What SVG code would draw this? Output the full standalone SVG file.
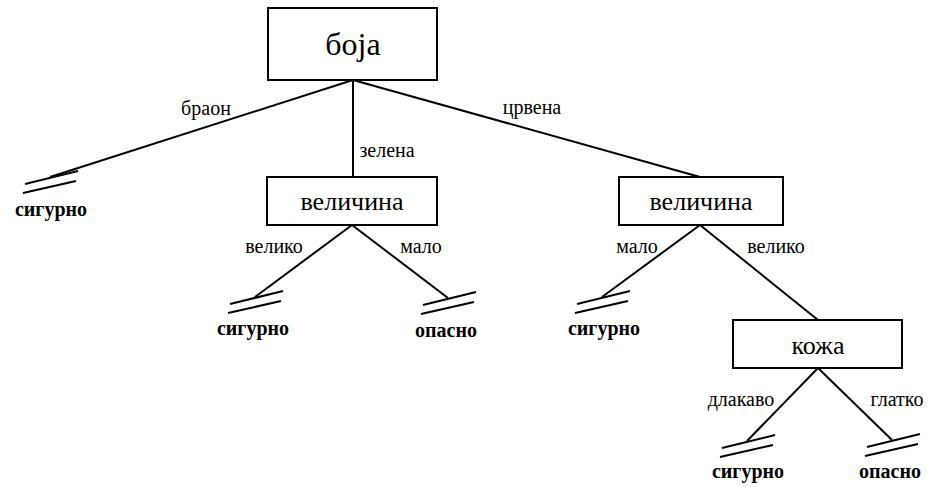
<svg xmlns="http://www.w3.org/2000/svg" width="929" height="487" viewBox="0 0 929 487">
  <style>
    .box { fill: #ffffff; stroke: #000000; stroke-width: 2; }
    .edge { stroke: #000000; stroke-width: 2; fill: none; }
    .term line { stroke: #000000; stroke-width: 2; }
    text { font-family: "Liberation Serif", "Times New Roman", serif; fill: #000000; text-anchor: middle; }
    .lbl { font-size: 20px; }
    .node-text { font-size: 26px; }
    .root-text { font-size: 32px; }
    .leaf { font-size: 20px; font-weight: bold; }
  </style>
  <defs>
    <g id="term" class="term">
      <line x1="-25" y1="7" x2="28" y2="-6"/>
      <line x1="-27" y1="16" x2="26" y2="4"/>
    </g>
  </defs>
  <rect width="929" height="487" fill="#ffffff"/>

  <g id="connectors">
    <line class="edge" x1="353" y1="80" x2="50" y2="177"/>
    <line class="edge" x1="353" y1="80" x2="353" y2="177"/>
    <line class="edge" x1="353" y1="80" x2="700" y2="177"/>
    <line class="edge" x1="352" y1="225" x2="255" y2="297"/>
    <line class="edge" x1="352" y1="225" x2="448" y2="298"/>
    <line class="edge" x1="700" y1="225" x2="602" y2="297"/>
    <line class="edge" x1="700" y1="225" x2="818" y2="320"/>
    <line class="edge" x1="818" y1="368" x2="747" y2="441"/>
    <line class="edge" x1="818" y1="368" x2="892" y2="440"/>
    <text class="lbl" x="206" y="115">браон</text>
    <text class="lbl" x="387" y="157">зелена</text>
    <text class="lbl" x="532" y="114">црвена</text>
    <text class="lbl" x="274" y="253">велико</text>
    <text class="lbl" x="421" y="253">мало</text>
    <text class="lbl" x="637" y="253">мало</text>
    <text class="lbl" x="776" y="253">велико</text>
    <text class="lbl" x="741" y="406">длакаво</text>
    <text class="lbl" x="897" y="406">глатко</text>
  </g>

  <g id="node-boja">
    <rect class="box" x="268" y="8" width="169" height="72"/>
    <text class="root-text" x="353" y="55">боја</text>
  </g>
  <g id="node-velicina-1">
    <rect class="box" x="267" y="177" width="170" height="48"/>
    <text class="node-text" x="352" y="210">величина</text>
  </g>
  <g id="node-velicina-2">
    <rect class="box" x="619" y="177" width="164" height="48"/>
    <text class="node-text" x="701" y="210">величина</text>
  </g>
  <g id="node-koza">
    <rect class="box" x="733" y="320" width="169" height="48"/>
    <text class="node-text" x="818" y="354">кожа</text>
  </g>

  <g id="leaf-1">
    <use href="#term" x="50" y="177"/>
    <text class="leaf" x="51" y="216">сигурно</text>
  </g>
  <g id="leaf-2">
    <use href="#term" x="255" y="297"/>
    <text class="leaf" x="253" y="335">сигурно</text>
  </g>
  <g id="leaf-3">
    <use href="#term" x="448" y="298"/>
    <text class="leaf" x="446" y="337">опасно</text>
  </g>
  <g id="leaf-4">
    <use href="#term" x="602" y="297"/>
    <text class="leaf" x="604" y="335">сигурно</text>
  </g>
  <g id="leaf-5">
    <use href="#term" x="747" y="441"/>
    <text class="leaf" x="748" y="478">сигурно</text>
  </g>
  <g id="leaf-6">
    <use href="#term" x="892" y="440"/>
    <text class="leaf" x="890" y="478">опасно</text>
  </g>
</svg>
